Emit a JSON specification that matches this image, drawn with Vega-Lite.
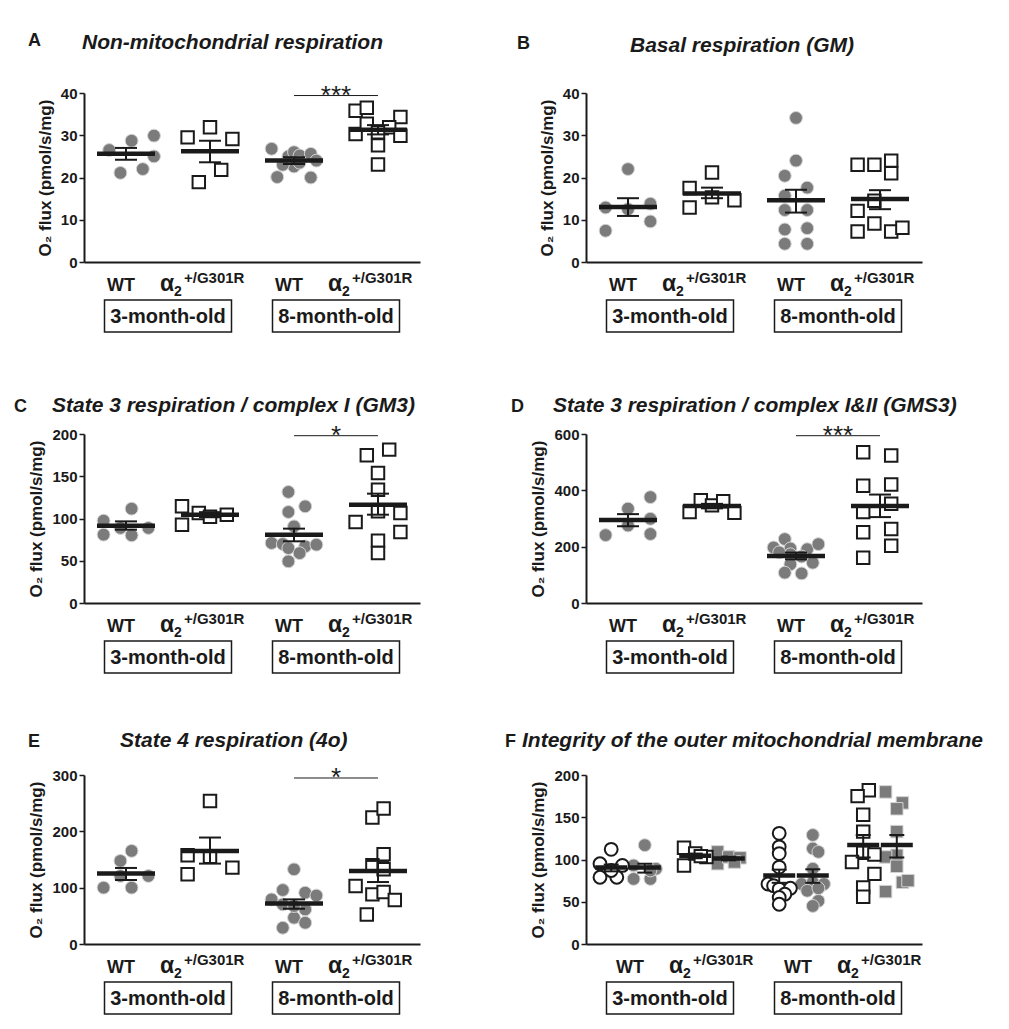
{
"$schema":"https://vega.github.io/schema/vega-lite/v6.json",
"padding":{"left":14,"top":32,"right":5,"bottom":5},
"columns":2,
"spacing":{"row":172,"column":166},
"bounds":"flush",
"datasets":{
"pA":[{"g":"WT3","v":26.5,"c":-3},{"g":"WT3","v":28.7,"c":1},{"g":"WT3","v":29.9,"c":5},{"g":"WT3","v":25.0,"c":5},{"g":"WT3","v":21.1,"c":-1},{"g":"WT3","v":22.0,"c":3},
{"g":"A3","v":29.5,"c":-4},{"g":"A3","v":31.9,"c":0},{"g":"A3","v":29.1,"c":4},{"g":"A3","v":21.8,"c":2},{"g":"A3","v":18.9,"c":-2},
{"g":"WT8","v":26.8,"c":-4},{"g":"WT8","v":20.1,"c":-3},{"g":"WT8","v":25.0,"c":-1},{"g":"WT8","v":26.0,"c":0},{"g":"WT8","v":22.6,"c":0},{"g":"WT8","v":25.2,"c":1},{"g":"WT8","v":23.5,"c":1},{"g":"WT8","v":25.6,"c":3},{"g":"WT8","v":20.0,"c":3},{"g":"WT8","v":24.0,"c":4},{"g":"WT8","v":23.0,"c":-2},
{"g":"A8","v":35.8,"c":-4},{"g":"A8","v":36.5,"c":-2},{"g":"A8","v":34.3,"c":4},{"g":"A8","v":30.3,"c":-4},{"g":"A8","v":32.7,"c":-2},{"g":"A8","v":31.9,"c":2},{"g":"A8","v":29.9,"c":4},{"g":"A8","v":27.6,"c":0},{"g":"A8","v":23.1,"c":0},{"g":"A8","v":30.7,"c":0}],
"sA":[{"g":"WT3","m":25.6,"lo":24.2,"hi":27.0},{"g":"A3","m":26.2,"lo":23.6,"hi":28.7},{"g":"WT8","m":24.0,"lo":23.2,"hi":24.8},{"g":"A8","m":31.3,"lo":30.2,"hi":32.4}],
"pB":[{"g":"WT3","v":22.0,"c":0},{"g":"WT3","v":12.9,"c":-4},{"g":"WT3","v":12.5,"c":0},{"g":"WT3","v":13.8,"c":4},{"g":"WT3","v":9.6,"c":4},{"g":"WT3","v":7.4,"c":-4},
{"g":"A3","v":17.5,"c":-4},{"g":"A3","v":12.9,"c":-4},{"g":"A3","v":21.2,"c":0},{"g":"A3","v":15.3,"c":0},{"g":"A3","v":14.6,"c":4},
{"g":"WT8","v":34.1,"c":0},{"g":"WT8","v":24.0,"c":0},{"g":"WT8","v":20.4,"c":-2},{"g":"WT8","v":17.6,"c":2},{"g":"WT8","v":15.7,"c":-2},{"g":"WT8","v":12.3,"c":-2},{"g":"WT8","v":12.3,"c":2},{"g":"WT8","v":7.7,"c":-2},{"g":"WT8","v":8.0,"c":2},{"g":"WT8","v":4.3,"c":-2},{"g":"WT8","v":4.3,"c":2},
{"g":"A8","v":23.0,"c":-4},{"g":"A8","v":23.0,"c":-1},{"g":"A8","v":24.0,"c":2},{"g":"A8","v":21.0,"c":2},{"g":"A8","v":14.5,"c":-1},{"g":"A8","v":12.1,"c":-4},{"g":"A8","v":9.1,"c":-1},{"g":"A8","v":7.2,"c":-4},{"g":"A8","v":7.2,"c":2},{"g":"A8","v":8.1,"c":4}],
"sB":[{"g":"WT3","m":13.0,"lo":10.9,"hi":15.1},{"g":"A3","m":16.2,"lo":15.1,"hi":17.6},{"g":"WT8","m":14.6,"lo":11.7,"hi":17.1},{"g":"A8","m":14.9,"lo":12.5,"hi":17.0}],
"pC":[{"g":"WT3","v":97.4,"c":-4},{"g":"WT3","v":80.9,"c":-4},{"g":"WT3","v":111.6,"c":1},{"g":"WT3","v":80.1,"c":1},{"g":"WT3","v":88.8,"c":-1},{"g":"WT3","v":88.8,"c":4},
{"g":"A3","v":114.4,"c":-5},{"g":"A3","v":92.7,"c":-5},{"g":"A3","v":106.5,"c":-2},{"g":"A3","v":102.0,"c":0},{"g":"A3","v":104.5,"c":3},
{"g":"WT8","v":131.4,"c":-1},{"g":"WT8","v":114.4,"c":2},{"g":"WT8","v":107.7,"c":-1},{"g":"WT8","v":90.7,"c":0},{"g":"WT8","v":71.0,"c":-4},{"g":"WT8","v":69.8,"c":-2},{"g":"WT8","v":65.0,"c":-1},{"g":"WT8","v":67.0,"c":2},{"g":"WT8","v":69.0,"c":4},{"g":"WT8","v":59.0,"c":1},{"g":"WT8","v":49.3,"c":-1},
{"g":"A8","v":174.8,"c":-2},{"g":"A8","v":181.5,"c":2},{"g":"A8","v":153.8,"c":0},{"g":"A8","v":134.0,"c":0},{"g":"A8","v":108.5,"c":0},{"g":"A8","v":106.5,"c":4},{"g":"A8","v":95.9,"c":-4},{"g":"A8","v":84.0,"c":4},{"g":"A8","v":73.8,"c":0},{"g":"A8","v":59.2,"c":0}],
"sC":[{"g":"WT3","m":91.5,"lo":86.8,"hi":96.6},{"g":"A3","m":104.5,"lo":101.5,"hi":107.5},{"g":"WT8","m":80.9,"lo":73.0,"hi":88.0},{"g":"A8","m":116.4,"lo":104.5,"hi":129.4}],
"pD":[{"g":"WT3","v":241,"c":-4},{"g":"WT3","v":335,"c":0},{"g":"WT3","v":275,"c":0},{"g":"WT3","v":376,"c":4},{"g":"WT3","v":299,"c":4},{"g":"WT3","v":245,"c":4},
{"g":"A3","v":323,"c":-4},{"g":"A3","v":364.5,"c":-2},{"g":"A3","v":346.6,"c":0},{"g":"A3","v":361,"c":2},{"g":"A3","v":320,"c":4},
{"g":"WT8","v":227,"c":-2},{"g":"WT8","v":197,"c":-4},{"g":"WT8","v":193.6,"c":-1},{"g":"WT8","v":191,"c":2},{"g":"WT8","v":209,"c":4},{"g":"WT8","v":173,"c":-1},{"g":"WT8","v":165,"c":1},{"g":"WT8","v":143,"c":3},{"g":"WT8","v":137.4,"c":-1},{"g":"WT8","v":107.6,"c":-2},{"g":"WT8","v":105,"c":1},{"g":"WT8","v":180,"c":-3},
{"g":"A8","v":535.4,"c":-3},{"g":"A8","v":523.5,"c":2},{"g":"A8","v":416,"c":-3},{"g":"A8","v":421,"c":2},{"g":"A8","v":352.6,"c":2},{"g":"A8","v":322.7,"c":-3},{"g":"A8","v":251,"c":-3},{"g":"A8","v":263,"c":2},{"g":"A8","v":203,"c":2},{"g":"A8","v":161,"c":-3}],
"sD":[{"g":"WT3","m":295,"lo":272.5,"hi":315.5},{"g":"A3","m":344,"lo":336,"hi":352},{"g":"WT8","m":167,"lo":155,"hi":179},{"g":"A8","m":344,"lo":305,"hi":385}],
"pE":[{"g":"WT3","v":100,"c":-4},{"g":"WT3","v":147.5,"c":-1},{"g":"WT3","v":165.3,"c":1},{"g":"WT3","v":120.8,"c":-1},{"g":"WT3","v":100,"c":1},{"g":"WT3","v":120.8,"c":4},
{"g":"A3","v":254,"c":0},{"g":"A3","v":157.6,"c":-4},{"g":"A3","v":123.8,"c":-4},{"g":"A3","v":155,"c":0},{"g":"A3","v":135.6,"c":4},
{"g":"WT8","v":132.6,"c":0},{"g":"WT8","v":95.8,"c":-2},{"g":"WT8","v":91,"c":2},{"g":"WT8","v":86,"c":4},{"g":"WT8","v":79.2,"c":-4},{"g":"WT8","v":70.3,"c":-2},{"g":"WT8","v":61.4,"c":2},{"g":"WT8","v":46.6,"c":0},{"g":"WT8","v":37.7,"c":2},{"g":"WT8","v":28.8,"c":-2},{"g":"WT8","v":67.4,"c":0},
{"g":"A8","v":224.6,"c":-1},{"g":"A8","v":240.7,"c":1},{"g":"A8","v":159.3,"c":1},{"g":"A8","v":139.8,"c":-1},{"g":"A8","v":132.6,"c":1},{"g":"A8","v":103,"c":-4},{"g":"A8","v":88.1,"c":-1},{"g":"A8","v":92.3,"c":1},{"g":"A8","v":78,"c":3},{"g":"A8","v":52.5,"c":-2}],
"sE":[{"g":"WT3","m":125,"lo":113.6,"hi":135},{"g":"A3","m":165.3,"lo":142.7,"hi":189},{"g":"WT8","m":72.1,"lo":62.6,"hi":79.2},{"g":"A8","m":129.7,"lo":110,"hi":147.5}],
"pF":[{"g":"WT3","s":"o","v":112,"c":-3},{"g":"WT3","s":"o","v":95,"c":-5},{"g":"WT3","s":"o","v":93,"c":-1},{"g":"WT3","s":"o","v":79,"c":-5},{"g":"WT3","s":"o","v":79,"c":-2},{"g":"WT3","s":"o","v":87,"c":-3},
{"g":"WT3","s":"f","v":117,"c":3},{"g":"WT3","s":"f","v":93,"c":1},{"g":"WT3","s":"f","v":77,"c":1},{"g":"WT3","s":"f","v":77,"c":4},{"g":"WT3","s":"f","v":89,"c":5},{"g":"WT3","s":"f","v":87,"c":4},
{"g":"A3","s":"o","v":114,"c":-5},{"g":"A3","s":"o","v":93,"c":-5},{"g":"A3","s":"o","v":107,"c":-3},{"g":"A3","s":"o","v":103,"c":-1},{"g":"A3","s":"o","v":104,"c":-2},
{"g":"A3","s":"f","v":109,"c":1},{"g":"A3","s":"f","v":95,"c":1},{"g":"A3","s":"f","v":103,"c":3},{"g":"A3","s":"f","v":102,"c":5},{"g":"A3","s":"f","v":97,"c":4},
{"g":"WT8","s":"o","v":131,"c":-3},{"g":"WT8","s":"o","v":115,"c":-3},{"g":"WT8","s":"o","v":107,"c":-3},{"g":"WT8","s":"o","v":91,"c":-3},{"g":"WT8","s":"o","v":71,"c":-5},{"g":"WT8","s":"o","v":69,"c":-4},{"g":"WT8","s":"o","v":65,"c":-3},{"g":"WT8","s":"o","v":66,"c":-1},{"g":"WT8","s":"o","v":59,"c":-2},{"g":"WT8","s":"o","v":55,"c":-3},{"g":"WT8","s":"o","v":47,"c":-3},
{"g":"WT8","s":"f","v":129,"c":3},{"g":"WT8","s":"f","v":113,"c":3},{"g":"WT8","s":"f","v":109,"c":4},{"g":"WT8","s":"f","v":89,"c":3},{"g":"WT8","s":"f","v":71,"c":1},{"g":"WT8","s":"f","v":73,"c":3},{"g":"WT8","s":"f","v":71,"c":5},{"g":"WT8","s":"f","v":63,"c":2},{"g":"WT8","s":"f","v":51,"c":4},{"g":"WT8","s":"f","v":45,"c":3},{"g":"WT8","s":"f","v":66,"c":4},
{"g":"A8","s":"o","v":182,"c":-2},{"g":"A8","s":"o","v":175,"c":-4},{"g":"A8","s":"o","v":153,"c":-3},{"g":"A8","s":"o","v":133,"c":-3},{"g":"A8","s":"o","v":108,"c":-3},{"g":"A8","s":"o","v":97,"c":-5},{"g":"A8","s":"o","v":106,"c":-1},{"g":"A8","s":"o","v":83,"c":-1},{"g":"A8","s":"o","v":67,"c":-3},{"g":"A8","s":"o","v":56,"c":-3},
{"g":"A8","s":"f","v":180,"c":1},{"g":"A8","s":"f","v":167,"c":4},{"g":"A8","s":"f","v":160,"c":3},{"g":"A8","s":"f","v":133,"c":3},{"g":"A8","s":"f","v":105,"c":3},{"g":"A8","s":"f","v":103,"c":1},{"g":"A8","s":"f","v":92,"c":3},{"g":"A8","s":"f","v":73,"c":4},{"g":"A8","s":"f","v":62,"c":1},{"g":"A8","s":"f","v":75,"c":5}],
"sF":[{"g":"WT3","c":-3,"m":90.4,"lo":86,"hi":94},{"g":"WT3","c":3,"m":90.4,"lo":84.5,"hi":95},{"g":"A3","c":-3,"m":104.4,"lo":101.5,"hi":107},{"g":"A3","c":3,"m":101.2,"lo":99,"hi":103.5},{"g":"WT8","c":-3,"m":81.2,"lo":72.4,"hi":88},{"g":"WT8","c":3,"m":81.2,"lo":72.4,"hi":88.4},{"g":"A8","c":-3,"m":117.2,"lo":102.4,"hi":129},{"g":"A8","c":3,"m":117.2,"lo":102.4,"hi":129}],
"wt":[{"g":"WT3"},{"g":"WT8"}],
"al":[{"g":"A3"},{"g":"A8"}],
"age":[{"g":"WT3","t":"3-month-old"},{"g":"WT8","t":"8-month-old"}]
},
"concat":[
{"width":336,"height":169,"layer":[
{"data":{"name":"pA"},"transform":[{"filter":"datum.g=='WT3'||datum.g=='WT8'"}],"mark":{"type":"point","shape":"circle","filled":true,"fill":"#7b7b7b","stroke":"#d4d4d4","strokeWidth":1,"size":165,"opacity":1},"encoding":{"x":{"field":"g","type":"nominal","title":null,"scale":{"domain":["WT3","A3","WT8","A8"],"paddingInner":0,"paddingOuter":0}},"xOffset":{"field":"c","type":"ordinal","scale":{"domain":[-7,-6,-5,-4,-3,-2,-1,0,1,2,3,4,5,6,7]}},"y":{"field":"v","type":"quantitative","title":"O₂ flux (pmol/s/mg)","scale":{"domain":[0,40],"nice":false},"axis":{"values":[0,10,20,30,40]}}}},
{"data":{"name":"pA"},"transform":[{"filter":"datum.g=='A3'||datum.g=='A8'"}],"mark":{"type":"point","shape":"square","filled":true,"fill":"#ffffff","stroke":"#1a1a1a","strokeWidth":2,"size":155,"opacity":1},"encoding":{"x":{"field":"g","type":"nominal","title":null},"xOffset":{"field":"c","type":"ordinal","scale":{"domain":[-7,-6,-5,-4,-3,-2,-1,0,1,2,3,4,5,6,7]}},"y":{"field":"v","type":"quantitative","title":"O₂ flux (pmol/s/mg)","scale":{"domain":[0,40],"nice":false}}}},
{"data":{"name":"sA"},"mark":{"type":"rule","stroke":"#1a1a1a","strokeWidth":2},"encoding":{"x":{"field":"g","type":"nominal","title":null},"y":{"field":"lo","type":"quantitative","title":"O₂ flux (pmol/s/mg)","scale":{"domain":[0,40],"nice":false}},"y2":{"field":"hi"}}},
{"data":{"name":"sA"},"mark":{"type":"tick","color":"#1a1a1a","size":22,"thickness":2,"opacity":1},"encoding":{"x":{"field":"g","type":"nominal","title":null},"y":{"field":"lo","type":"quantitative","title":"O₂ flux (pmol/s/mg)","scale":{"domain":[0,40],"nice":false}}}},
{"data":{"name":"sA"},"mark":{"type":"tick","color":"#1a1a1a","size":22,"thickness":2,"opacity":1},"encoding":{"x":{"field":"g","type":"nominal","title":null},"y":{"field":"hi","type":"quantitative","title":"O₂ flux (pmol/s/mg)","scale":{"domain":[0,40],"nice":false}}}},
{"data":{"name":"sA"},"mark":{"type":"tick","color":"#1a1a1a","size":58,"thickness":4.5,"opacity":1},"encoding":{"x":{"field":"g","type":"nominal","title":null},"y":{"field":"m","type":"quantitative","title":"O₂ flux (pmol/s/mg)","scale":{"domain":[0,40],"nice":false}}}},
{"data":{"values":[{"g":"WT8","g2":"A8","y":39.4,"t":"***"}]},"mark":{"type":"rule","stroke":"#1a1a1a","strokeWidth":1},"encoding":{"x":{"field":"g","type":"nominal","title":null},"x2":{"field":"g2"},"y":{"field":"y","type":"quantitative","title":"O₂ flux (pmol/s/mg)","scale":{"domain":[0,40],"nice":false}}}},
{"data":{"values":[{"g":"WT8","g2":"A8","y":39.4,"t":"***"}]},"mark":{"type":"text","fontSize":26,"align":"center","baseline":"alphabetic","dx":-42,"dy":8},"encoding":{"x":{"field":"g2","type":"nominal","title":null},"y":{"field":"y","type":"quantitative","title":"O₂ flux (pmol/s/mg)","scale":{"domain":[0,40],"nice":false}},"text":{"field":"t"}}},
{"data":{"name":"wt"},"mark":{"type":"text","text":"WT","fontSize":18,"fontWeight":"bold","align":"center","baseline":"alphabetic","dx":-5,"dy":29},"encoding":{"x":{"field":"g","type":"nominal","title":null},"y":{"datum":0,"type":"quantitative"}}},
{"data":{"name":"al"},"mark":{"type":"text","text":"α","fontSize":23,"fontWeight":"bold","align":"left","baseline":"alphabetic","dx":-50,"dy":29},"encoding":{"x":{"field":"g","type":"nominal","title":null},"y":{"datum":0,"type":"quantitative"}}},
{"data":{"name":"al"},"mark":{"type":"text","text":"2","fontSize":14,"fontWeight":"bold","align":"left","baseline":"alphabetic","dx":-36,"dy":34},"encoding":{"x":{"field":"g","type":"nominal","title":null},"y":{"datum":0,"type":"quantitative"}}},
{"data":{"name":"al"},"mark":{"type":"text","text":"+/G301R","fontSize":15,"fontWeight":"bold","align":"left","baseline":"alphabetic","dx":-26,"dy":21},"encoding":{"x":{"field":"g","type":"nominal","title":null},"y":{"datum":0,"type":"quantitative"}}},
{"data":{"name":"age"},"mark":{"type":"text","fontSize":20,"fontWeight":"bold","align":"center","baseline":"alphabetic","dx":42,"dy":61},"encoding":{"x":{"field":"g","type":"nominal","title":null},"y":{"datum":0,"type":"quantitative"},"text":{"field":"t"}}},
{"data":{"name":"age"},"mark":{"type":"point","shape":"M-0.215,0.38H1.055V0.70H-0.215Z","size":40000,"filled":false,"stroke":"#1a1a1a","strokeWidth":1.5,"opacity":1},"encoding":{"x":{"field":"g","type":"nominal","title":null},"y":{"datum":0,"type":"quantitative"}}},
{"data":{"values":[{}]},"mark":{"type":"text","text":"A","fontSize":18,"fontWeight":"bold","align":"left","baseline":"alphabetic","dx":-98,"dy":-47},"encoding":{"x":{"datum":"WT3","type":"nominal"},"y":{"datum":40,"type":"quantitative"}}},
{"data":{"values":[{}]},"mark":{"type":"text","text":"Non-mitochondrial respiration","fontSize":21,"fontWeight":"bold","fontStyle":"italic","align":"left","baseline":"alphabetic","dx":-44,"dy":-44},"encoding":{"x":{"datum":"WT3","type":"nominal"},"y":{"datum":40,"type":"quantitative"}}}
]},
{"width":336,"height":169,"layer":[
{"data":{"name":"pB"},"transform":[{"filter":"datum.g=='WT3'||datum.g=='WT8'"}],"mark":{"type":"point","shape":"circle","filled":true,"fill":"#7b7b7b","stroke":"#d4d4d4","strokeWidth":1,"size":165,"opacity":1},"encoding":{"x":{"field":"g","type":"nominal","title":null,"scale":{"domain":["WT3","A3","WT8","A8"],"paddingInner":0,"paddingOuter":0}},"xOffset":{"field":"c","type":"ordinal","scale":{"domain":[-7,-6,-5,-4,-3,-2,-1,0,1,2,3,4,5,6,7]}},"y":{"field":"v","type":"quantitative","title":"O₂ flux (pmol/s/mg)","scale":{"domain":[0,40],"nice":false},"axis":{"values":[0,10,20,30,40]}}}},
{"data":{"name":"pB"},"transform":[{"filter":"datum.g=='A3'||datum.g=='A8'"}],"mark":{"type":"point","shape":"square","filled":true,"fill":"#ffffff","stroke":"#1a1a1a","strokeWidth":2,"size":155,"opacity":1},"encoding":{"x":{"field":"g","type":"nominal","title":null},"xOffset":{"field":"c","type":"ordinal","scale":{"domain":[-7,-6,-5,-4,-3,-2,-1,0,1,2,3,4,5,6,7]}},"y":{"field":"v","type":"quantitative","title":"O₂ flux (pmol/s/mg)","scale":{"domain":[0,40],"nice":false}}}},
{"data":{"name":"sB"},"mark":{"type":"rule","stroke":"#1a1a1a","strokeWidth":2},"encoding":{"x":{"field":"g","type":"nominal","title":null},"y":{"field":"lo","type":"quantitative","title":"O₂ flux (pmol/s/mg)","scale":{"domain":[0,40],"nice":false}},"y2":{"field":"hi"}}},
{"data":{"name":"sB"},"mark":{"type":"tick","color":"#1a1a1a","size":22,"thickness":2,"opacity":1},"encoding":{"x":{"field":"g","type":"nominal","title":null},"y":{"field":"lo","type":"quantitative","title":"O₂ flux (pmol/s/mg)","scale":{"domain":[0,40],"nice":false}}}},
{"data":{"name":"sB"},"mark":{"type":"tick","color":"#1a1a1a","size":22,"thickness":2,"opacity":1},"encoding":{"x":{"field":"g","type":"nominal","title":null},"y":{"field":"hi","type":"quantitative","title":"O₂ flux (pmol/s/mg)","scale":{"domain":[0,40],"nice":false}}}},
{"data":{"name":"sB"},"mark":{"type":"tick","color":"#1a1a1a","size":58,"thickness":4.5,"opacity":1},"encoding":{"x":{"field":"g","type":"nominal","title":null},"y":{"field":"m","type":"quantitative","title":"O₂ flux (pmol/s/mg)","scale":{"domain":[0,40],"nice":false}}}},
{"data":{"name":"wt"},"mark":{"type":"text","text":"WT","fontSize":18,"fontWeight":"bold","align":"center","baseline":"alphabetic","dx":-5,"dy":29},"encoding":{"x":{"field":"g","type":"nominal","title":null},"y":{"datum":0,"type":"quantitative"}}},
{"data":{"name":"al"},"mark":{"type":"text","text":"α","fontSize":23,"fontWeight":"bold","align":"left","baseline":"alphabetic","dx":-50,"dy":29},"encoding":{"x":{"field":"g","type":"nominal","title":null},"y":{"datum":0,"type":"quantitative"}}},
{"data":{"name":"al"},"mark":{"type":"text","text":"2","fontSize":14,"fontWeight":"bold","align":"left","baseline":"alphabetic","dx":-36,"dy":34},"encoding":{"x":{"field":"g","type":"nominal","title":null},"y":{"datum":0,"type":"quantitative"}}},
{"data":{"name":"al"},"mark":{"type":"text","text":"+/G301R","fontSize":15,"fontWeight":"bold","align":"left","baseline":"alphabetic","dx":-26,"dy":21},"encoding":{"x":{"field":"g","type":"nominal","title":null},"y":{"datum":0,"type":"quantitative"}}},
{"data":{"name":"age"},"mark":{"type":"text","fontSize":20,"fontWeight":"bold","align":"center","baseline":"alphabetic","dx":42,"dy":61},"encoding":{"x":{"field":"g","type":"nominal","title":null},"y":{"datum":0,"type":"quantitative"},"text":{"field":"t"}}},
{"data":{"name":"age"},"mark":{"type":"point","shape":"M-0.215,0.38H1.055V0.70H-0.215Z","size":40000,"filled":false,"stroke":"#1a1a1a","strokeWidth":1.5,"opacity":1},"encoding":{"x":{"field":"g","type":"nominal","title":null},"y":{"datum":0,"type":"quantitative"}}},
{"data":{"values":[{}]},"mark":{"type":"text","text":"B","fontSize":18,"fontWeight":"bold","align":"left","baseline":"alphabetic","dx":-111,"dy":-44},"encoding":{"x":{"datum":"WT3","type":"nominal"},"y":{"datum":40,"type":"quantitative"}}},
{"data":{"values":[{}]},"mark":{"type":"text","text":"Basal respiration (GM)","fontSize":21,"fontWeight":"bold","fontStyle":"italic","align":"left","baseline":"alphabetic","dx":2,"dy":-41},"encoding":{"x":{"datum":"WT3","type":"nominal"},"y":{"datum":40,"type":"quantitative"}}}
]},
{"width":336,"height":169,"layer":[
{"data":{"name":"pC"},"transform":[{"filter":"datum.g=='WT3'||datum.g=='WT8'"}],"mark":{"type":"point","shape":"circle","filled":true,"fill":"#7b7b7b","stroke":"#d4d4d4","strokeWidth":1,"size":165,"opacity":1},"encoding":{"x":{"field":"g","type":"nominal","title":null,"scale":{"domain":["WT3","A3","WT8","A8"],"paddingInner":0,"paddingOuter":0}},"xOffset":{"field":"c","type":"ordinal","scale":{"domain":[-7,-6,-5,-4,-3,-2,-1,0,1,2,3,4,5,6,7]}},"y":{"field":"v","type":"quantitative","title":"O₂ flux (pmol/s/mg)","scale":{"domain":[0,200],"nice":false},"axis":{"values":[0,50,100,150,200]}}}},
{"data":{"name":"pC"},"transform":[{"filter":"datum.g=='A3'||datum.g=='A8'"}],"mark":{"type":"point","shape":"square","filled":true,"fill":"#ffffff","stroke":"#1a1a1a","strokeWidth":2,"size":155,"opacity":1},"encoding":{"x":{"field":"g","type":"nominal","title":null},"xOffset":{"field":"c","type":"ordinal","scale":{"domain":[-7,-6,-5,-4,-3,-2,-1,0,1,2,3,4,5,6,7]}},"y":{"field":"v","type":"quantitative","title":"O₂ flux (pmol/s/mg)","scale":{"domain":[0,200],"nice":false}}}},
{"data":{"name":"sC"},"mark":{"type":"rule","stroke":"#1a1a1a","strokeWidth":2},"encoding":{"x":{"field":"g","type":"nominal","title":null},"y":{"field":"lo","type":"quantitative","title":"O₂ flux (pmol/s/mg)","scale":{"domain":[0,200],"nice":false}},"y2":{"field":"hi"}}},
{"data":{"name":"sC"},"mark":{"type":"tick","color":"#1a1a1a","size":22,"thickness":2,"opacity":1},"encoding":{"x":{"field":"g","type":"nominal","title":null},"y":{"field":"lo","type":"quantitative","title":"O₂ flux (pmol/s/mg)","scale":{"domain":[0,200],"nice":false}}}},
{"data":{"name":"sC"},"mark":{"type":"tick","color":"#1a1a1a","size":22,"thickness":2,"opacity":1},"encoding":{"x":{"field":"g","type":"nominal","title":null},"y":{"field":"hi","type":"quantitative","title":"O₂ flux (pmol/s/mg)","scale":{"domain":[0,200],"nice":false}}}},
{"data":{"name":"sC"},"mark":{"type":"tick","color":"#1a1a1a","size":58,"thickness":4.5,"opacity":1},"encoding":{"x":{"field":"g","type":"nominal","title":null},"y":{"field":"m","type":"quantitative","title":"O₂ flux (pmol/s/mg)","scale":{"domain":[0,200],"nice":false}}}},
{"data":{"values":[{"g":"WT8","g2":"A8","y":198,"t":"*"}]},"mark":{"type":"rule","stroke":"#1a1a1a","strokeWidth":1},"encoding":{"x":{"field":"g","type":"nominal","title":null},"x2":{"field":"g2"},"y":{"field":"y","type":"quantitative","title":"O₂ flux (pmol/s/mg)","scale":{"domain":[0,200],"nice":false}}}},
{"data":{"values":[{"g":"WT8","g2":"A8","y":198,"t":"*"}]},"mark":{"type":"text","fontSize":26,"align":"center","baseline":"alphabetic","dx":-42,"dy":8},"encoding":{"x":{"field":"g2","type":"nominal","title":null},"y":{"field":"y","type":"quantitative","title":"O₂ flux (pmol/s/mg)","scale":{"domain":[0,200],"nice":false}},"text":{"field":"t"}}},
{"data":{"name":"wt"},"mark":{"type":"text","text":"WT","fontSize":18,"fontWeight":"bold","align":"center","baseline":"alphabetic","dx":-5,"dy":29},"encoding":{"x":{"field":"g","type":"nominal","title":null},"y":{"datum":0,"type":"quantitative"}}},
{"data":{"name":"al"},"mark":{"type":"text","text":"α","fontSize":23,"fontWeight":"bold","align":"left","baseline":"alphabetic","dx":-50,"dy":29},"encoding":{"x":{"field":"g","type":"nominal","title":null},"y":{"datum":0,"type":"quantitative"}}},
{"data":{"name":"al"},"mark":{"type":"text","text":"2","fontSize":14,"fontWeight":"bold","align":"left","baseline":"alphabetic","dx":-36,"dy":34},"encoding":{"x":{"field":"g","type":"nominal","title":null},"y":{"datum":0,"type":"quantitative"}}},
{"data":{"name":"al"},"mark":{"type":"text","text":"+/G301R","fontSize":15,"fontWeight":"bold","align":"left","baseline":"alphabetic","dx":-26,"dy":21},"encoding":{"x":{"field":"g","type":"nominal","title":null},"y":{"datum":0,"type":"quantitative"}}},
{"data":{"name":"age"},"mark":{"type":"text","fontSize":20,"fontWeight":"bold","align":"center","baseline":"alphabetic","dx":42,"dy":61},"encoding":{"x":{"field":"g","type":"nominal","title":null},"y":{"datum":0,"type":"quantitative"},"text":{"field":"t"}}},
{"data":{"name":"age"},"mark":{"type":"point","shape":"M-0.215,0.38H1.055V0.70H-0.215Z","size":40000,"filled":false,"stroke":"#1a1a1a","strokeWidth":1.5,"opacity":1},"encoding":{"x":{"field":"g","type":"nominal","title":null},"y":{"datum":0,"type":"quantitative"}}},
{"data":{"values":[{}]},"mark":{"type":"text","text":"C","fontSize":18,"fontWeight":"bold","align":"left","baseline":"alphabetic","dx":-112,"dy":-22},"encoding":{"x":{"datum":"WT3","type":"nominal"},"y":{"datum":200,"type":"quantitative"}}},
{"data":{"values":[{}]},"mark":{"type":"text","text":"State 3 respiration / complex I (GM3)","fontSize":21,"fontWeight":"bold","fontStyle":"italic","align":"left","baseline":"alphabetic","dx":-74,"dy":-22},"encoding":{"x":{"datum":"WT3","type":"nominal"},"y":{"datum":200,"type":"quantitative"}}}
]},
{"width":336,"height":169,"layer":[
{"data":{"name":"pD"},"transform":[{"filter":"datum.g=='WT3'||datum.g=='WT8'"}],"mark":{"type":"point","shape":"circle","filled":true,"fill":"#7b7b7b","stroke":"#d4d4d4","strokeWidth":1,"size":165,"opacity":1},"encoding":{"x":{"field":"g","type":"nominal","title":null,"scale":{"domain":["WT3","A3","WT8","A8"],"paddingInner":0,"paddingOuter":0}},"xOffset":{"field":"c","type":"ordinal","scale":{"domain":[-7,-6,-5,-4,-3,-2,-1,0,1,2,3,4,5,6,7]}},"y":{"field":"v","type":"quantitative","title":"O₂ flux (pmol/s/mg)","scale":{"domain":[0,600],"nice":false},"axis":{"values":[0,200,400,600]}}}},
{"data":{"name":"pD"},"transform":[{"filter":"datum.g=='A3'||datum.g=='A8'"}],"mark":{"type":"point","shape":"square","filled":true,"fill":"#ffffff","stroke":"#1a1a1a","strokeWidth":2,"size":155,"opacity":1},"encoding":{"x":{"field":"g","type":"nominal","title":null},"xOffset":{"field":"c","type":"ordinal","scale":{"domain":[-7,-6,-5,-4,-3,-2,-1,0,1,2,3,4,5,6,7]}},"y":{"field":"v","type":"quantitative","title":"O₂ flux (pmol/s/mg)","scale":{"domain":[0,600],"nice":false}}}},
{"data":{"name":"sD"},"mark":{"type":"rule","stroke":"#1a1a1a","strokeWidth":2},"encoding":{"x":{"field":"g","type":"nominal","title":null},"y":{"field":"lo","type":"quantitative","title":"O₂ flux (pmol/s/mg)","scale":{"domain":[0,600],"nice":false}},"y2":{"field":"hi"}}},
{"data":{"name":"sD"},"mark":{"type":"tick","color":"#1a1a1a","size":22,"thickness":2,"opacity":1},"encoding":{"x":{"field":"g","type":"nominal","title":null},"y":{"field":"lo","type":"quantitative","title":"O₂ flux (pmol/s/mg)","scale":{"domain":[0,600],"nice":false}}}},
{"data":{"name":"sD"},"mark":{"type":"tick","color":"#1a1a1a","size":22,"thickness":2,"opacity":1},"encoding":{"x":{"field":"g","type":"nominal","title":null},"y":{"field":"hi","type":"quantitative","title":"O₂ flux (pmol/s/mg)","scale":{"domain":[0,600],"nice":false}}}},
{"data":{"name":"sD"},"mark":{"type":"tick","color":"#1a1a1a","size":58,"thickness":4.5,"opacity":1},"encoding":{"x":{"field":"g","type":"nominal","title":null},"y":{"field":"m","type":"quantitative","title":"O₂ flux (pmol/s/mg)","scale":{"domain":[0,600],"nice":false}}}},
{"data":{"values":[{"g":"WT8","g2":"A8","y":594,"t":"***"}]},"mark":{"type":"rule","stroke":"#1a1a1a","strokeWidth":1},"encoding":{"x":{"field":"g","type":"nominal","title":null},"x2":{"field":"g2"},"y":{"field":"y","type":"quantitative","title":"O₂ flux (pmol/s/mg)","scale":{"domain":[0,600],"nice":false}}}},
{"data":{"values":[{"g":"WT8","g2":"A8","y":594,"t":"***"}]},"mark":{"type":"text","fontSize":26,"align":"center","baseline":"alphabetic","dx":-42,"dy":8},"encoding":{"x":{"field":"g2","type":"nominal","title":null},"y":{"field":"y","type":"quantitative","title":"O₂ flux (pmol/s/mg)","scale":{"domain":[0,600],"nice":false}},"text":{"field":"t"}}},
{"data":{"name":"wt"},"mark":{"type":"text","text":"WT","fontSize":18,"fontWeight":"bold","align":"center","baseline":"alphabetic","dx":-5,"dy":29},"encoding":{"x":{"field":"g","type":"nominal","title":null},"y":{"datum":0,"type":"quantitative"}}},
{"data":{"name":"al"},"mark":{"type":"text","text":"α","fontSize":23,"fontWeight":"bold","align":"left","baseline":"alphabetic","dx":-50,"dy":29},"encoding":{"x":{"field":"g","type":"nominal","title":null},"y":{"datum":0,"type":"quantitative"}}},
{"data":{"name":"al"},"mark":{"type":"text","text":"2","fontSize":14,"fontWeight":"bold","align":"left","baseline":"alphabetic","dx":-36,"dy":34},"encoding":{"x":{"field":"g","type":"nominal","title":null},"y":{"datum":0,"type":"quantitative"}}},
{"data":{"name":"al"},"mark":{"type":"text","text":"+/G301R","fontSize":15,"fontWeight":"bold","align":"left","baseline":"alphabetic","dx":-26,"dy":21},"encoding":{"x":{"field":"g","type":"nominal","title":null},"y":{"datum":0,"type":"quantitative"}}},
{"data":{"name":"age"},"mark":{"type":"text","fontSize":20,"fontWeight":"bold","align":"center","baseline":"alphabetic","dx":42,"dy":61},"encoding":{"x":{"field":"g","type":"nominal","title":null},"y":{"datum":0,"type":"quantitative"},"text":{"field":"t"}}},
{"data":{"name":"age"},"mark":{"type":"point","shape":"M-0.215,0.38H1.055V0.70H-0.215Z","size":40000,"filled":false,"stroke":"#1a1a1a","strokeWidth":1.5,"opacity":1},"encoding":{"x":{"field":"g","type":"nominal","title":null},"y":{"datum":0,"type":"quantitative"}}},
{"data":{"values":[{}]},"mark":{"type":"text","text":"D","fontSize":18,"fontWeight":"bold","align":"left","baseline":"alphabetic","dx":-117,"dy":-22},"encoding":{"x":{"datum":"WT3","type":"nominal"},"y":{"datum":600,"type":"quantitative"}}},
{"data":{"values":[{}]},"mark":{"type":"text","text":"State 3 respiration / complex I&II (GMS3)","fontSize":21,"fontWeight":"bold","fontStyle":"italic","align":"left","baseline":"alphabetic","dx":-75,"dy":-22},"encoding":{"x":{"datum":"WT3","type":"nominal"},"y":{"datum":600,"type":"quantitative"}}}
]},
{"width":336,"height":169,"layer":[
{"data":{"name":"pE"},"transform":[{"filter":"datum.g=='WT3'||datum.g=='WT8'"}],"mark":{"type":"point","shape":"circle","filled":true,"fill":"#7b7b7b","stroke":"#d4d4d4","strokeWidth":1,"size":165,"opacity":1},"encoding":{"x":{"field":"g","type":"nominal","title":null,"scale":{"domain":["WT3","A3","WT8","A8"],"paddingInner":0,"paddingOuter":0}},"xOffset":{"field":"c","type":"ordinal","scale":{"domain":[-7,-6,-5,-4,-3,-2,-1,0,1,2,3,4,5,6,7]}},"y":{"field":"v","type":"quantitative","title":"O₂ flux (pmol/s/mg)","scale":{"domain":[0,300],"nice":false},"axis":{"values":[0,100,200,300]}}}},
{"data":{"name":"pE"},"transform":[{"filter":"datum.g=='A3'||datum.g=='A8'"}],"mark":{"type":"point","shape":"square","filled":true,"fill":"#ffffff","stroke":"#1a1a1a","strokeWidth":2,"size":155,"opacity":1},"encoding":{"x":{"field":"g","type":"nominal","title":null},"xOffset":{"field":"c","type":"ordinal","scale":{"domain":[-7,-6,-5,-4,-3,-2,-1,0,1,2,3,4,5,6,7]}},"y":{"field":"v","type":"quantitative","title":"O₂ flux (pmol/s/mg)","scale":{"domain":[0,300],"nice":false}}}},
{"data":{"name":"sE"},"mark":{"type":"rule","stroke":"#1a1a1a","strokeWidth":2},"encoding":{"x":{"field":"g","type":"nominal","title":null},"y":{"field":"lo","type":"quantitative","title":"O₂ flux (pmol/s/mg)","scale":{"domain":[0,300],"nice":false}},"y2":{"field":"hi"}}},
{"data":{"name":"sE"},"mark":{"type":"tick","color":"#1a1a1a","size":22,"thickness":2,"opacity":1},"encoding":{"x":{"field":"g","type":"nominal","title":null},"y":{"field":"lo","type":"quantitative","title":"O₂ flux (pmol/s/mg)","scale":{"domain":[0,300],"nice":false}}}},
{"data":{"name":"sE"},"mark":{"type":"tick","color":"#1a1a1a","size":22,"thickness":2,"opacity":1},"encoding":{"x":{"field":"g","type":"nominal","title":null},"y":{"field":"hi","type":"quantitative","title":"O₂ flux (pmol/s/mg)","scale":{"domain":[0,300],"nice":false}}}},
{"data":{"name":"sE"},"mark":{"type":"tick","color":"#1a1a1a","size":58,"thickness":4.5,"opacity":1},"encoding":{"x":{"field":"g","type":"nominal","title":null},"y":{"field":"m","type":"quantitative","title":"O₂ flux (pmol/s/mg)","scale":{"domain":[0,300],"nice":false}}}},
{"data":{"values":[{"g":"WT8","g2":"A8","y":294.7,"t":"*"}]},"mark":{"type":"rule","stroke":"#1a1a1a","strokeWidth":1},"encoding":{"x":{"field":"g","type":"nominal","title":null},"x2":{"field":"g2"},"y":{"field":"y","type":"quantitative","title":"O₂ flux (pmol/s/mg)","scale":{"domain":[0,300],"nice":false}}}},
{"data":{"values":[{"g":"WT8","g2":"A8","y":294.7,"t":"*"}]},"mark":{"type":"text","fontSize":26,"align":"center","baseline":"alphabetic","dx":-42,"dy":8},"encoding":{"x":{"field":"g2","type":"nominal","title":null},"y":{"field":"y","type":"quantitative","title":"O₂ flux (pmol/s/mg)","scale":{"domain":[0,300],"nice":false}},"text":{"field":"t"}}},
{"data":{"name":"wt"},"mark":{"type":"text","text":"WT","fontSize":18,"fontWeight":"bold","align":"center","baseline":"alphabetic","dx":-5,"dy":29},"encoding":{"x":{"field":"g","type":"nominal","title":null},"y":{"datum":0,"type":"quantitative"}}},
{"data":{"name":"al"},"mark":{"type":"text","text":"α","fontSize":23,"fontWeight":"bold","align":"left","baseline":"alphabetic","dx":-50,"dy":29},"encoding":{"x":{"field":"g","type":"nominal","title":null},"y":{"datum":0,"type":"quantitative"}}},
{"data":{"name":"al"},"mark":{"type":"text","text":"2","fontSize":14,"fontWeight":"bold","align":"left","baseline":"alphabetic","dx":-36,"dy":34},"encoding":{"x":{"field":"g","type":"nominal","title":null},"y":{"datum":0,"type":"quantitative"}}},
{"data":{"name":"al"},"mark":{"type":"text","text":"+/G301R","fontSize":15,"fontWeight":"bold","align":"left","baseline":"alphabetic","dx":-26,"dy":21},"encoding":{"x":{"field":"g","type":"nominal","title":null},"y":{"datum":0,"type":"quantitative"}}},
{"data":{"name":"age"},"mark":{"type":"text","fontSize":20,"fontWeight":"bold","align":"center","baseline":"alphabetic","dx":42,"dy":61},"encoding":{"x":{"field":"g","type":"nominal","title":null},"y":{"datum":0,"type":"quantitative"},"text":{"field":"t"}}},
{"data":{"name":"age"},"mark":{"type":"point","shape":"M-0.215,0.38H1.055V0.70H-0.215Z","size":40000,"filled":false,"stroke":"#1a1a1a","strokeWidth":1.5,"opacity":1},"encoding":{"x":{"field":"g","type":"nominal","title":null},"y":{"datum":0,"type":"quantitative"}}},
{"data":{"values":[{}]},"mark":{"type":"text","text":"E","fontSize":18,"fontWeight":"bold","align":"left","baseline":"alphabetic","dx":-98,"dy":-28},"encoding":{"x":{"datum":"WT3","type":"nominal"},"y":{"datum":300,"type":"quantitative"}}},
{"data":{"values":[{}]},"mark":{"type":"text","text":"State 4 respiration (4o)","fontSize":21,"fontWeight":"bold","fontStyle":"italic","align":"left","baseline":"alphabetic","dx":-6,"dy":-28},"encoding":{"x":{"datum":"WT3","type":"nominal"},"y":{"datum":300,"type":"quantitative"}}}
]},
{"width":336,"height":169,"layer":[
{"data":{"name":"pF"},"transform":[{"filter":"(datum.g=='WT3'||datum.g=='WT8')&&datum.s=='f'"}],"mark":{"type":"point","shape":"circle","filled":true,"fill":"#7b7b7b","stroke":"#d4d4d4","strokeWidth":1,"size":165,"opacity":1},"encoding":{"x":{"field":"g","type":"nominal","title":null,"scale":{"domain":["WT3","A3","WT8","A8"],"paddingInner":0,"paddingOuter":0}},"xOffset":{"field":"c","type":"ordinal","scale":{"domain":[-7,-6,-5,-4,-3,-2,-1,0,1,2,3,4,5,6,7]}},"y":{"field":"v","type":"quantitative","title":"O₂ flux (pmol/s/mg)","scale":{"domain":[0,200],"nice":false},"axis":{"values":[0,50,100,150,200]}}}},
{"data":{"name":"pF"},"transform":[{"filter":"(datum.g=='A3'||datum.g=='A8')&&datum.s=='f'"}],"mark":{"type":"point","shape":"square","filled":true,"fill":"#7b7b7b","stroke":"#d4d4d4","strokeWidth":1,"size":155,"opacity":1},"encoding":{"x":{"field":"g","type":"nominal","title":null},"xOffset":{"field":"c","type":"ordinal","scale":{"domain":[-7,-6,-5,-4,-3,-2,-1,0,1,2,3,4,5,6,7]}},"y":{"field":"v","type":"quantitative","title":"O₂ flux (pmol/s/mg)","scale":{"domain":[0,200],"nice":false}}}},
{"data":{"name":"pF"},"transform":[{"filter":"(datum.g=='WT3'||datum.g=='WT8')&&datum.s=='o'"}],"mark":{"type":"point","shape":"circle","filled":true,"fill":"#ffffff","stroke":"#1a1a1a","strokeWidth":2,"size":165,"opacity":1},"encoding":{"x":{"field":"g","type":"nominal","title":null},"xOffset":{"field":"c","type":"ordinal","scale":{"domain":[-7,-6,-5,-4,-3,-2,-1,0,1,2,3,4,5,6,7]}},"y":{"field":"v","type":"quantitative","title":"O₂ flux (pmol/s/mg)","scale":{"domain":[0,200],"nice":false}}}},
{"data":{"name":"pF"},"transform":[{"filter":"(datum.g=='A3'||datum.g=='A8')&&datum.s=='o'"}],"mark":{"type":"point","shape":"square","filled":true,"fill":"#ffffff","stroke":"#1a1a1a","strokeWidth":2,"size":155,"opacity":1},"encoding":{"x":{"field":"g","type":"nominal","title":null},"xOffset":{"field":"c","type":"ordinal","scale":{"domain":[-7,-6,-5,-4,-3,-2,-1,0,1,2,3,4,5,6,7]}},"y":{"field":"v","type":"quantitative","title":"O₂ flux (pmol/s/mg)","scale":{"domain":[0,200],"nice":false}}}},
{"data":{"name":"sF"},"mark":{"type":"rule","stroke":"#1a1a1a","strokeWidth":2},"encoding":{"x":{"field":"g","type":"nominal","title":null},"xOffset":{"field":"c","type":"ordinal","scale":{"domain":[-7,-6,-5,-4,-3,-2,-1,0,1,2,3,4,5,6,7]}},"y":{"field":"lo","type":"quantitative","title":"O₂ flux (pmol/s/mg)","scale":{"domain":[0,200],"nice":false}},"y2":{"field":"hi"}}},
{"data":{"name":"sF"},"mark":{"type":"tick","color":"#1a1a1a","size":15,"thickness":2,"opacity":1},"encoding":{"x":{"field":"g","type":"nominal","title":null},"xOffset":{"field":"c","type":"ordinal","scale":{"domain":[-7,-6,-5,-4,-3,-2,-1,0,1,2,3,4,5,6,7]}},"y":{"field":"lo","type":"quantitative","title":"O₂ flux (pmol/s/mg)","scale":{"domain":[0,200],"nice":false}}}},
{"data":{"name":"sF"},"mark":{"type":"tick","color":"#1a1a1a","size":15,"thickness":2,"opacity":1},"encoding":{"x":{"field":"g","type":"nominal","title":null},"xOffset":{"field":"c","type":"ordinal","scale":{"domain":[-7,-6,-5,-4,-3,-2,-1,0,1,2,3,4,5,6,7]}},"y":{"field":"hi","type":"quantitative","title":"O₂ flux (pmol/s/mg)","scale":{"domain":[0,200],"nice":false}}}},
{"data":{"name":"sF"},"mark":{"type":"tick","color":"#1a1a1a","size":32,"thickness":4.5,"opacity":1},"encoding":{"x":{"field":"g","type":"nominal","title":null},"xOffset":{"field":"c","type":"ordinal","scale":{"domain":[-7,-6,-5,-4,-3,-2,-1,0,1,2,3,4,5,6,7]}},"y":{"field":"m","type":"quantitative","title":"O₂ flux (pmol/s/mg)","scale":{"domain":[0,200],"nice":false}}}},
{"data":{"name":"wt"},"mark":{"type":"text","text":"WT","fontSize":18,"fontWeight":"bold","align":"center","baseline":"alphabetic","dx":2,"dy":29},"encoding":{"x":{"field":"g","type":"nominal","title":null},"y":{"datum":0,"type":"quantitative"}}},
{"data":{"name":"al"},"mark":{"type":"text","text":"α","fontSize":23,"fontWeight":"bold","align":"left","baseline":"alphabetic","dx":-43,"dy":29},"encoding":{"x":{"field":"g","type":"nominal","title":null},"y":{"datum":0,"type":"quantitative"}}},
{"data":{"name":"al"},"mark":{"type":"text","text":"2","fontSize":14,"fontWeight":"bold","align":"left","baseline":"alphabetic","dx":-29,"dy":34},"encoding":{"x":{"field":"g","type":"nominal","title":null},"y":{"datum":0,"type":"quantitative"}}},
{"data":{"name":"al"},"mark":{"type":"text","text":"+/G301R","fontSize":15,"fontWeight":"bold","align":"left","baseline":"alphabetic","dx":-19,"dy":21},"encoding":{"x":{"field":"g","type":"nominal","title":null},"y":{"datum":0,"type":"quantitative"}}},
{"data":{"name":"age"},"mark":{"type":"text","fontSize":20,"fontWeight":"bold","align":"center","baseline":"alphabetic","dx":42,"dy":61},"encoding":{"x":{"field":"g","type":"nominal","title":null},"y":{"datum":0,"type":"quantitative"},"text":{"field":"t"}}},
{"data":{"name":"age"},"mark":{"type":"point","shape":"M-0.215,0.38H1.055V0.70H-0.215Z","size":40000,"filled":false,"stroke":"#1a1a1a","strokeWidth":1.5,"opacity":1},"encoding":{"x":{"field":"g","type":"nominal","title":null},"y":{"datum":0,"type":"quantitative"}}},
{"data":{"values":[{}]},"mark":{"type":"text","text":"F","fontSize":18,"fontWeight":"bold","align":"left","baseline":"alphabetic","dx":-123,"dy":-28},"encoding":{"x":{"datum":"WT3","type":"nominal"},"y":{"datum":200,"type":"quantitative"}}},
{"data":{"values":[{}]},"mark":{"type":"text","text":"Integrity of the outer mitochondrial membrane","fontSize":21,"fontWeight":"bold","fontStyle":"italic","align":"left","baseline":"alphabetic","dx":-106,"dy":-28},"encoding":{"x":{"datum":"WT3","type":"nominal"},"y":{"datum":200,"type":"quantitative"}}}
]}
],
"config":{
"view":{"stroke":null},
"font":"Liberation Sans",
"text":{"font":"Liberation Sans","color":"#1a1a1a"},
"axis":{"grid":false,"domainColor":"#1a1a1a","domainWidth":2,"tickColor":"#1a1a1a","tickWidth":1.5,"tickSize":5,"labelFont":"Liberation Sans","labelFontSize":15,"labelFontWeight":"bold","labelColor":"#1a1a1a","labelPadding":2,"titleFont":"Liberation Sans","titleFontSize":17,"titleFontWeight":"bold","titleColor":"#1a1a1a","titlePadding":6},
"axisX":{"labels":false,"ticks":false}
}
}
